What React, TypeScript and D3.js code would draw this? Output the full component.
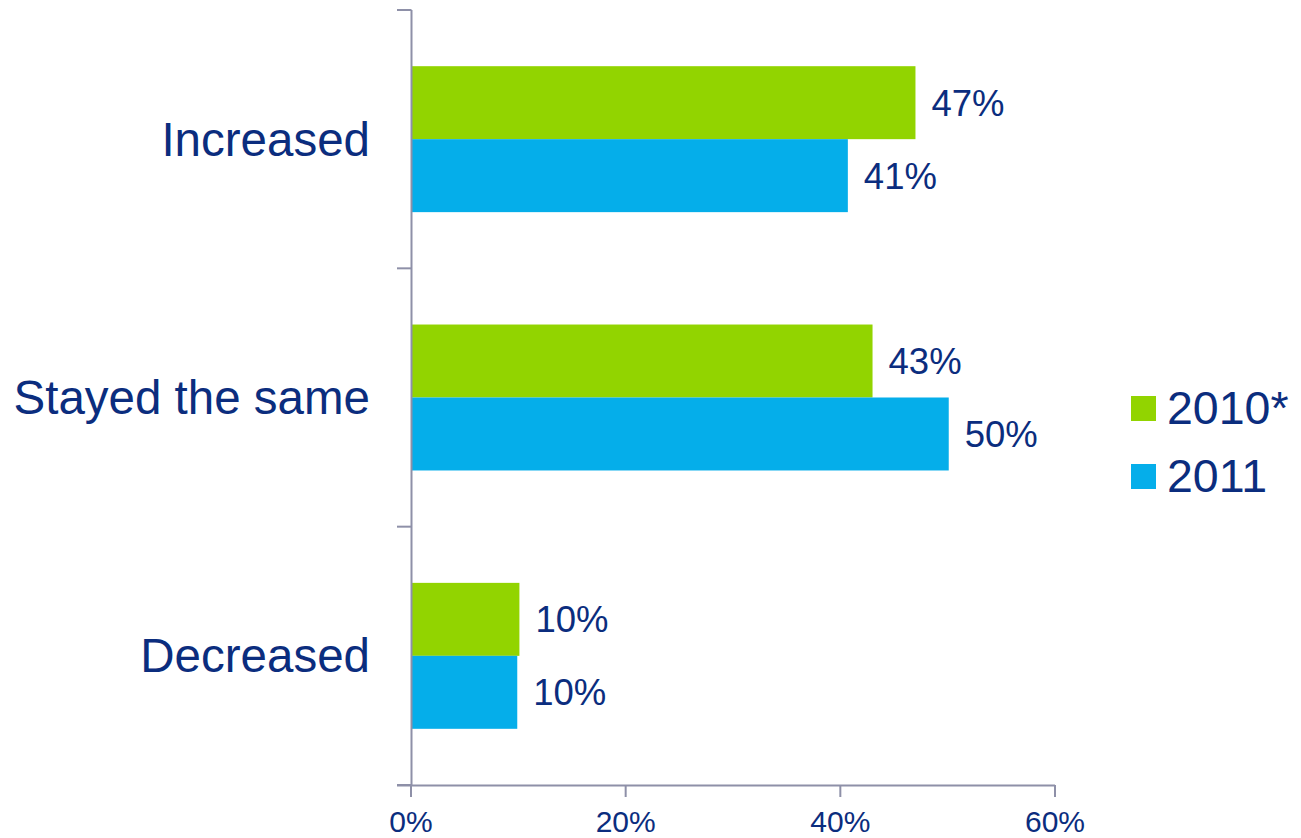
import React from "react";
import * as d3 from "d3";

const categories = ["Increased", "Stayed the same", "Decreased"];
const seriesNames = ["2010*", "2011"];
const values2010 = [47.0, 43.0, 10.1];
const values2011 = [40.7, 50.1, 9.9];
const xTicks = [0, 20, 40, 60];
const seriesColors = ["#92D400", "#05AEEA"];

const W = 1301;
const H = 838;
const TEXT = "#0B2D7E";
const AXIS = "#8E90A8";
const FONT = "'Liberation Sans', Arial, Helvetica, sans-serif";

export default function App() {
  const x = d3.scaleLinear().domain([0, 60]).range([411, 1055]);
  const y0 = d3.scaleBand<string>().domain(categories).range([10, 785]).padding(0);
  const y1 = d3
    .scaleBand<string>()
    .domain(seriesNames)
    .range([0, y0.bandwidth()])
    .paddingInner(0)
    .paddingOuter(0.77);
  const series = [values2010, values2011];
  const fmt = (v: number) => `${d3.format(".0f")(v)}%`;
  const bandEdges = [...categories.map((c) => y0(c) as number), 785];

  return (
    <svg
      width={W}
      height={H}
      style={{ position: "absolute", left: 0, top: 0, background: "#fff" }}
      fontFamily={FONT}
    >
      {/* bars */}
      {categories.map((c, ci) =>
        seriesNames.map((s, si) => {
          const v = series[si][ci];
          const yy = (y0(c) as number) + (y1(s) as number);
          return (
            <g key={c + s}>
              <rect
                x={x(0)}
                y={yy}
                width={x(v) - x(0)}
                height={y1.bandwidth()}
                fill={seriesColors[si]}
              />
              <text
                x={x(v) + 16}
                y={yy + y1.bandwidth() / 2}
                dy="0.36em"
                fontSize={36.5}
                fill={TEXT}
              >
                {fmt(v)}
              </text>
            </g>
          );
        })
      )}
      {/* y axis */}
      <line x1={411.5} x2={411.5} y1={10} y2={785} stroke={AXIS} strokeWidth={2} />
      {bandEdges.map((e, i) => (
        <line key={i} x1={397} x2={411.5} y1={e} y2={e} stroke={AXIS} strokeWidth={2} />
      ))}
      {categories.map((c) => (
        <text
          key={c}
          x={370}
          y={(y0(c) as number) + y0.bandwidth() / 2}
          dy="0.35em"
          textAnchor="end"
          fontSize={47.5}
          fill={TEXT}
        >
          {c}
        </text>
      ))}
      {/* x axis */}
      <line x1={397} x2={x(60)} y1={785.5} y2={785.5} stroke={AXIS} strokeWidth={2} />
      {xTicks.map((t) => (
        <g key={t}>
          <line x1={x(t)} x2={x(t)} y1={785} y2={797} stroke={AXIS} strokeWidth={2} />
          <text x={x(t)} y={832} textAnchor="middle" fontSize={30} fill={TEXT}>
            {`${t}%`}
          </text>
        </g>
      ))}
      {/* legend */}
      {seriesNames.map((s, i) => (
        <g key={s} transform={`translate(1131, ${396 + i * 68})`}>
          <rect x={0} y={0} width={25} height={25} fill={seriesColors[i]} />
          <text x={36} y={28} fontSize={46.5} fill={TEXT}>
            {s}
          </text>
        </g>
      ))}
    </svg>
  );
}
